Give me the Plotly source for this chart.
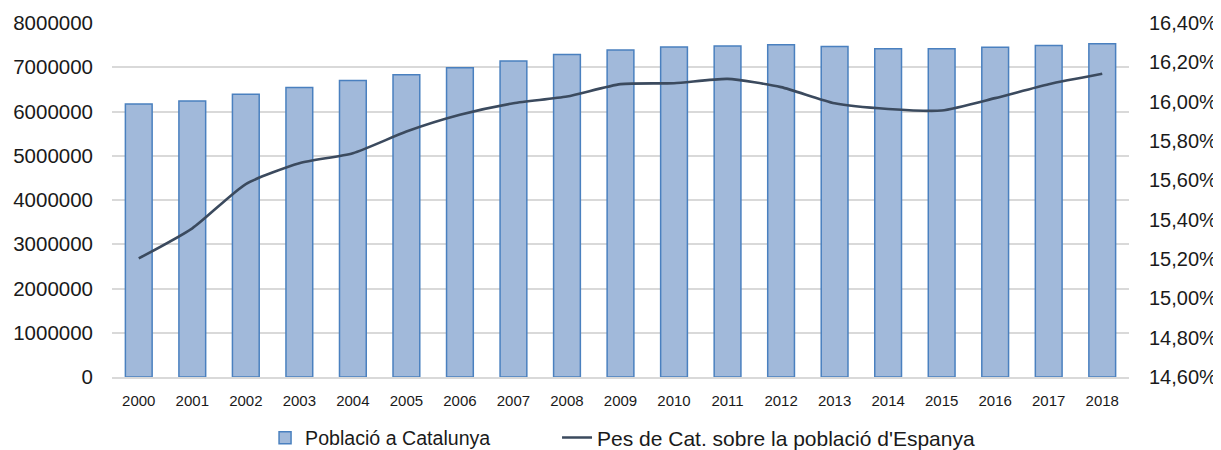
import plotly.graph_objects as go

years = [str(y) for y in range(2000, 2019)]
poblacio = [6170000, 6240000, 6390000, 6540000, 6700000, 6830000, 6990000, 7140000,
            7290000, 7390000, 7460000, 7480000, 7510000, 7470000, 7420000, 7420000,
            7450000, 7490000, 7530000]
pes_pct = [15.203, 15.356, 15.581, 15.687, 15.738, 15.848, 15.933, 15.992, 16.026,
           16.089, 16.094, 16.116, 16.074, 15.992, 15.963, 15.955, 16.018, 16.089, 16.142]

left_ticks = [0, 1000000, 2000000, 3000000, 4000000, 5000000, 6000000, 7000000, 8000000]
right_ticks = [14.6, 14.8, 15.0, 15.2, 15.4, 15.6, 15.8, 16.0, 16.2, 16.4]
right_tick_labels = ["14,60%", "14,80%", "15,00%", "15,20%", "15,40%", "15,60%",
                     "15,80%", "16,00%", "16,20%", "16,40%"]

fig = go.Figure()
fig.add_trace(go.Bar(
    x=years, y=poblacio, name="Població a Catalunya",
    marker=dict(color="#a1b9da", line=dict(color="#4a80bf", width=1.5)),
    width=0.5, yaxis="y", legend="legend",
))
fig.add_trace(go.Scatter(
    x=years, y=pes_pct, name="Pes de Cat. sobre la població d'Espanya",
    mode="lines", line=dict(color="#3b4a5e", width=2.6, shape="spline", smoothing=0.6),
    yaxis="y2", legend="legend2",
))

legend_common = dict(orientation="h", xanchor="left", y=-0.172, yanchor="middle",
                     bgcolor="rgba(0,0,0,0)")

fig.update_layout(
    width=1213, height=442,
    margin=dict(l=104, r=92, t=15, b=73, autoexpand=False),
    paper_bgcolor="white", plot_bgcolor="white",
    font=dict(family="Liberation Sans, Arial, sans-serif", color="#1a1a1a", size=20),
    showlegend=True,
    legend=dict(x=0.1505, font=dict(size=19.6, color="#1a1a1a"), **legend_common),
    legend2=dict(x=0.4376, font=dict(size=21, color="#1a1a1a"), **legend_common),
    xaxis=dict(
        type="category", showgrid=False, showline=True, linecolor="#d9d9d9", linewidth=1.5,
        ticks="", tickfont=dict(family="Liberation Sans, Arial, sans-serif",
                                 size=15, color="#1a1a1a"),
        ticklabelstandoff=9,
    ),
    yaxis=dict(
        range=[0, 8000000], tickvals=left_ticks, tickformat="d",
        showgrid=True, gridcolor="#d9d9d9", gridwidth=1.5, zeroline=False,
        showline=False, ticks="", ticklabelstandoff=18,
        tickfont=dict(size=20.5, color="#1a1a1a"),
    ),
    yaxis2=dict(
        range=[14.6, 16.4], tickvals=right_ticks, ticktext=right_tick_labels,
        overlaying="y", side="right", showgrid=False, zeroline=False, showline=False,
        ticks="", ticklabelstandoff=19, tickfont=dict(size=20, color="#1a1a1a"),
    ),
)

fig.write_html("out.html")
